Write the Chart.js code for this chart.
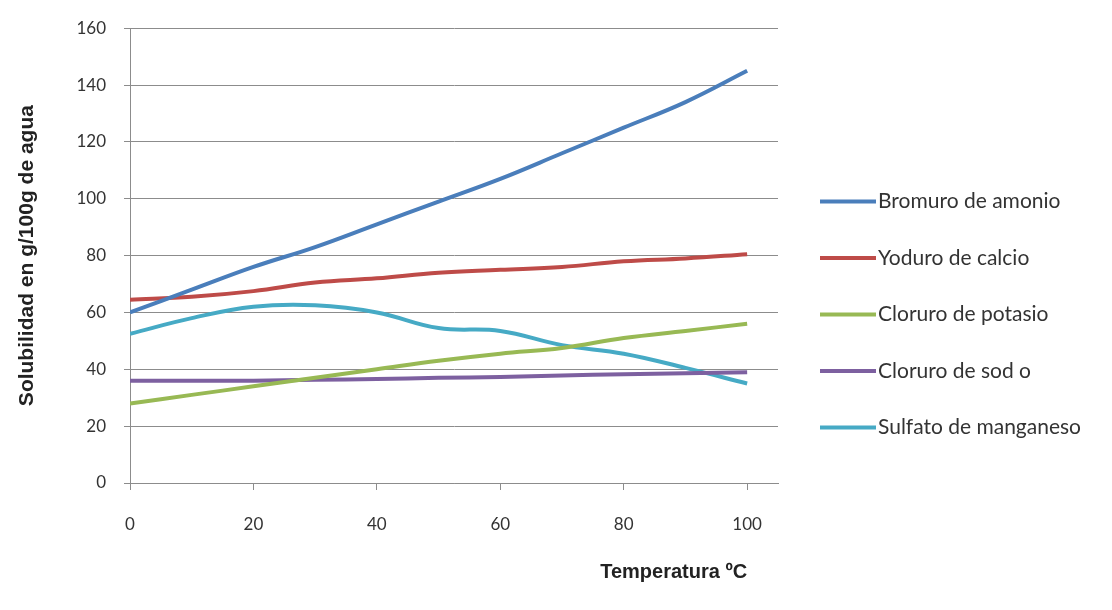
<!DOCTYPE html>
<html>
<head>
<meta charset="utf-8">
<script src="https://cdn.jsdelivr.net/npm/chart.js@4"></script>
<style>
  html, body { margin: 0; padding: 0; background: #fff; }
  #wrap { width: 1112px; height: 610px; }
</style>
</head>
<body>
<div id="wrap"><canvas id="solubilidadChart"></canvas></div>
<script>
// Datos (temperatura en ºC)
const temperaturas = [0, 10, 20, 30, 40, 50, 60, 70, 80, 90, 100];
const bromuroAmonio = [60, 68, 76, 83, 91, 99, 107, 116, 125, 134, 145];
const yoduroCalcio = [64.5, 65.5, 67.5, 70.5, 72, 74, 75, 76, 78, 79, 80.5];
const cloruroPotasio = [28, 31, 34, 37, 40, 43, 45.5, 47.5, 51, 53.5, 56];
const cloruroSodio = [36, 36, 36, 36.3, 36.6, 37, 37.3, 37.8, 38.3, 38.6, 39];
const sulfatoManganeso = [52.5, 58, 62, 62.5, 60, 54.5, 53.5, 48.5, 45.5, 40.5, 35];
const ticksY = [0, 20, 40, 60, 80, 100, 120, 140, 160];
const ticksX = [0, 20, 40, 60, 80, 100];

function puntos(valores) {
    return temperaturas.map((t, i) => ({ x: t, y: valores[i] }));
}

function serie(label, valores, color) {
    return {
        label: label,
        data: puntos(valores),
        borderColor: color,
        backgroundColor: color,
        borderWidth: 4,
        pointRadius: 0,
        tension: 0.4,
        fill: false
    };
}

// Título del eje X, alineado a la derecha con el valor 100
const tituloX = {
    id: 'tituloX',
    afterDraw(chart) {
        const ctx = chart.ctx;
        const xs = chart.scales.x;
        ctx.save();
        ctx.font = 'bold 20px "Liberation Sans", Arial, sans-serif';
        ctx.fillStyle = '#222';
        ctx.textAlign = 'right';
        ctx.textBaseline = 'middle';
        ctx.fillText('Temperatura ºC', xs.getPixelForValue(100), 572);
        ctx.restore();
    }
};

// Leyenda a la derecha (la de Chart.js no cabe con este tamaño de letra)
const leyenda = {
    id: 'leyenda',
    afterDraw(chart) {
        const ctx = chart.ctx;
        const area = chart.chartArea;
        const sets = chart.data.datasets;
        const paso = 56.5;
        const x0 = area.right + 42;
        const yMedio = (area.top + area.bottom) / 2 + 59;
        const y0 = yMedio - paso * (sets.length - 1) / 2;
        ctx.save();
        ctx.font = '21px Lato, sans-serif';
        ctx.textAlign = 'left';
        ctx.textBaseline = 'middle';
        sets.forEach((ds, i) => {
            const y = y0 + i * paso;
            ctx.strokeStyle = ds.borderColor;
            ctx.lineWidth = 4;
            ctx.beginPath();
            ctx.moveTo(x0, y);
            ctx.lineTo(x0 + 56, y);
            ctx.stroke();
            ctx.fillStyle = '#333';
            ctx.fillText(ds.label, x0 + 58, y);
        });
        ctx.restore();
    }
};

const ctxSol = document.getElementById('solubilidadChart').getContext('2d');
const solubilidadChart = new Chart(ctxSol, {
    type: 'line',
    data: {
        datasets: [
            serie('Bromuro de amonio', bromuroAmonio, '#4a7ebb'),
            serie('Yoduro de calcio', yoduroCalcio, '#be4b48'),
            serie('Cloruro de potasio', cloruroPotasio, '#98b954'),
            serie('Cloruro de sod o', cloruroSodio, '#7d60a0'),
            serie('Sulfato de manganeso', sulfatoManganeso, '#46aac5')
        ]
    },
    options: {
        responsive: true,
        maintainAspectRatio: false,
        animation: false,
        layout: {
            padding: { top: 16, right: 334, bottom: 0, left: 0 }
        },
        scales: {
            x: {
                type: 'linear',
                min: 0,
                max: 105,
                afterBuildTicks: function(axis) {
                    axis.ticks = ticksX.map(v => ({ value: v }));
                },
                afterFit: function(scale) {
                    scale.height = 127;
                },
                border: { color: '#8c8c8c', width: 1 },
                grid: {
                    drawOnChartArea: false,
                    drawTicks: true,
                    tickLength: 7,
                    color: '#8c8c8c'
                },
                ticks: {
                    padding: 24,
                    color: '#333',
                    font: { family: 'Lato', size: 17 }
                }
            },
            y: {
                min: 0,
                max: 160,
                afterBuildTicks: function(axis) {
                    axis.ticks = ticksY.map(v => ({ value: v }));
                },
                afterFit: function(scale) {
                    scale.width = 130;
                },
                border: { color: '#8c8c8c', width: 1 },
                grid: {
                    color: '#8c8c8c',
                    tickLength: 6
                },
                ticks: {
                    padding: 18,
                    color: '#333',
                    font: { family: 'Lato', size: 17 }
                },
                title: {
                    display: true,
                    text: 'Solubilidad en g/100g de agua',
                    color: '#222',
                    padding: { top: 15, bottom: 0 },
                    font: { family: '"Liberation Sans", Arial, sans-serif', size: 21, weight: 'bold' }
                }
            }
        },
        plugins: {
            legend: { display: false },
            tooltip: { enabled: false }
        }
    },
    plugins: [tituloX, leyenda]
});
</script>
</body>
</html>
